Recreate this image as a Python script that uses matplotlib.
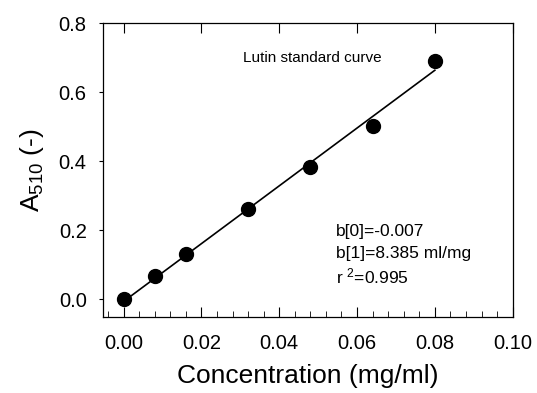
import numpy as np
import matplotlib.pyplot as plt
from matplotlib.ticker import MultipleLocator

plt.rcParams['font.family'] = ['Liberation Sans', 'DejaVu Sans']
plt.rcParams['mathtext.fontset'] = 'custom'
plt.rcParams['mathtext.rm'] = 'Liberation Sans'
plt.rcParams['mathtext.it'] = 'Liberation Sans'

# Data
conc = [0.0, 0.008, 0.016, 0.032, 0.048, 0.064, 0.080]
absorb = [0.0, 0.066, 0.130, 0.262, 0.382, 0.503, 0.690]

# Regression coefficients shown on the chart
b0 = -0.007
b1 = 8.385
fit_x = [0.0, 0.080]

fig = plt.figure(figsize=(5.37, 3.93), dpi=100)
ax = fig.add_axes([0.1924, 0.1934, 0.7623, 0.7473])

fit_y = [b0 + b1 * x for x in fit_x]
ax.plot(fit_x, fit_y, 'k-', linewidth=1.2)
ax.plot(conc, absorb, 'o', color='black', markersize=10)

ax.set_xlim(-0.0052, 0.1)
ax.set_ylim(-0.052, 0.8)
ax.set_xticks([0.0, 0.02, 0.04, 0.06, 0.08, 0.10])
ax.set_xticklabels(['0.00', '0.02', '0.04', '0.06', '0.08', '0.10'])
ax.xaxis.set_minor_locator(MultipleLocator(0.004))
ax.set_yticks([0.0, 0.2, 0.4, 0.6, 0.8])
ax.set_yticklabels(['0.0', '0.2', '0.4', '0.6', '0.8'])

for s in ax.spines.values():
    s.set_linewidth(0.9)

ax.tick_params(axis='x', which='major', direction='in', length=7, top=True,
               bottom=True, pad=12, labelsize=14.5)
ax.tick_params(axis='x', which='minor', direction='in', length=4, top=False,
               bottom=True)
ax.tick_params(axis='y', which='major', direction='out', length=3,
               labelsize=14.5, pad=9)

ax.set_xlabel('Concentration (mg/ml)', fontsize=19, labelpad=8)
ax.set_ylabel('A$_{510}$ (-)', fontsize=19, labelpad=9)

ax.text(0.0486, 0.699, 'Lutin standard curve', fontsize=11, ha='center', va='center')
ax.text(0.0546, 0.195, 'b[0]=-0.007', fontsize=12.5, va='center')
ax.text(0.0546, 0.133, 'b[1]=8.385 ml/mg', fontsize=12.5, va='center')
ax.text(0.0546, 0.067, 'r $^{2}$=0.995', fontsize=12.5, va='center')

plt.savefig('out.png', dpi=100)
